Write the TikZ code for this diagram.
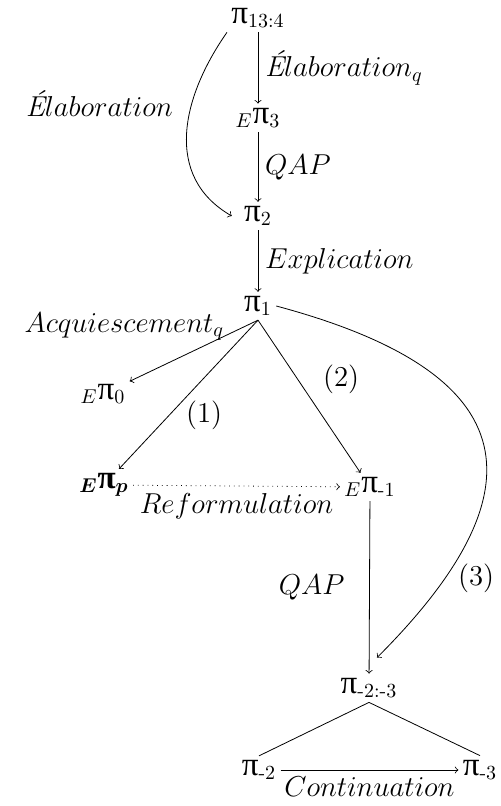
\documentclass[tikz,border=0pt]{standalone}
\usepackage{amsmath, amssymb}
\usepackage{fontspec}
\usepackage{tikz}
\usetikzlibrary{arrows, calc, positioning}
\newfontfamily\pifont[Scale=1.15]{Liberation Serif}
\newcommand{\upi}{{\pifont π}}
\newcommand{\Eacc}{\text{\itshape É}}

\begin{document}
\begin{tikzpicture}[x=0.5pt, y=-0.5pt,
    seg/.style={font=\Large, inner sep=2pt},
    lab/.style={font=\Large},
    rel/.style={->, thin},
  ]
    \useasboundingbox (0,0) rectangle (500,806);

    \node[seg] (p134) at (258,18) {\upi\textsubscript{13:4}};
    \node[seg] (e3) at (258,118) {${}_E$\upi\textsubscript{3}};
    \node[seg] (p2) at (258,216) {\upi\textsubscript{2}};
    \node[seg] (p1) at (258,306) {\upi\textsubscript{1}};
    \node[seg] (e0) at (103,394) {${}_E$\upi\textsubscript{0}};
    \node[seg] (ep) at (104,485) {${}_{\boldsymbol{E}}${\bfseries\upi}$_{\boldsymbol{p}}$};
    \node[seg] (em1) at (370,487) {${}_E$\upi\textsubscript{-1}};
    \node[seg] (p23) at (369,688) {\upi\textsubscript{-2:-3}};
    \node[seg] (pm2) at (259,770) {\upi\textsubscript{-2}};
    \node[seg] (pm3) at (480,770) {\upi\textsubscript{-3}};

    \draw[rel] (p134) -- node[lab, right] {$\Eacc laboration_q$} (e3);
    \draw[rel] (e3) -- node[lab, right] {$QAP$} (p2);
    \draw[rel] (p134.south west) to[out=235, in=150, looseness=1.1]
      node[lab, pos=0.35, left=6pt] {$\Eacc laboration$} ([xshift=-4pt]p2.west);
    \draw[rel] (p2) -- node[lab, right] {$Explication$} (p1);

    \draw[rel] (p1.south) -- node[lab, pos=0.1, left=7pt] {$Acquiescement_q$} (e0);
    \draw[rel] (p1.south) -- node[lab, pos=0.64, right=5pt] {(1)} (ep);
    \draw[rel] (p1.south) -- node[lab, pos=0.39, right=9pt] {(2)} (em1);
    \draw[rel, dotted] (ep) -- node[lab, below] {$Reformulation$} (em1);
    \draw[rel] (em1) -- node[lab, left=9pt] {$QAP$} (p23);
    \draw[rel] (p1.east) to[out=-15, in=45, looseness=1.74]
      node[lab, pos=0.84, right=3pt] {(3)} ([xshift=4pt, yshift=8pt]p23.north);

    \draw (p23.south) -- (pm2.north);
    \draw (p23.south) -- (pm3.north);
    \draw[rel] (pm2) -- node[lab, below] {$Continuation$} (pm3);
  \end{tikzpicture}
\end{document}
